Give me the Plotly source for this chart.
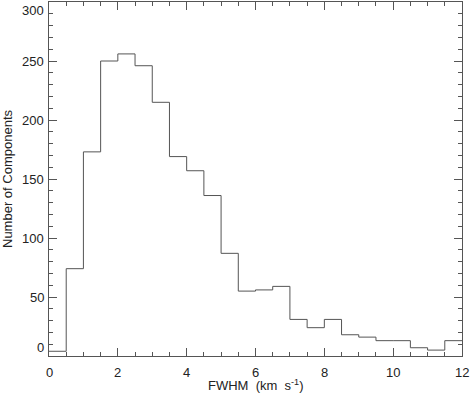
import plotly.graph_objects as go

bin_edges = [0.0, 0.5, 1.0, 1.5, 2.0, 2.5, 3.0, 3.5, 4.0, 4.5, 5.0, 5.5, 6.0,
             6.5, 7.0, 7.5, 8.0, 8.5, 9.0, 9.5, 10.0, 10.5, 11.0, 11.5, 12.0]
counts = [4, 74, 173, 250, 256, 246, 215, 169, 157, 136, 87, 55, 56,
          59, 31, 24, 31, 18, 16, 13, 13, 7, 5, 13]

x_ticks = [0, 2, 4, 6, 8, 10, 12]
y_ticks = [0, 50, 100, 150, 200, 250, 300]

x_title = "FWHM  (km  s<sup>-1</sup>)"
y_title = "Number of Components"

line_col = "#555555"
text_col = "#222222"

fig = go.Figure()
fig.add_trace(go.Scatter(
    x=bin_edges,
    y=counts + [counts[-1]],
    mode="lines",
    line=dict(shape="hv", color=line_col, width=1),
    showlegend=False,
    hoverinfo="skip",
))

font = dict(family="Liberation Sans, Arial, sans-serif", size=13, color=text_col)

axis_common = dict(
    showgrid=False, zeroline=False, showline=True, linecolor=line_col, linewidth=1,
    mirror="ticks", ticks="inside", ticklen=8, tickcolor=line_col, tickwidth=1,
    showticklabels=False, automargin=False,
)

fig.update_xaxes(range=[0, 12], tickmode="array", tickvals=x_ticks,
                 minor=dict(dtick=0.5, ticks="inside", ticklen=4, tickcolor=line_col),
                 **axis_common)
fig.update_yaxes(range=[0, 300], tickmode="array", tickvals=y_ticks,
                 minor=dict(dtick=10, ticks="inside", ticklen=4, tickcolor=line_col),
                 **axis_common)

annotations = []
for v in x_ticks:
    annotations.append(dict(
        x=v, y=0, xref="x", yref="paper", text=str(v), showarrow=False,
        xanchor="center", yanchor="top", yshift=-7, font=font,
    ))
for i, v in enumerate(y_ticks):
    if i == 0:
        ya, ys = "bottom", -1
    elif i == len(y_ticks) - 1:
        ya, ys = "top", 1
    else:
        ya, ys = "middle", 0
    annotations.append(dict(
        x=0, y=v, xref="paper", yref="y", text=str(v), showarrow=False,
        xanchor="right", yanchor=ya, xshift=-3, yshift=ys, font=font,
    ))
annotations.append(dict(
    x=0.5, y=0, xref="paper", yref="paper", text=x_title, showarrow=False,
    xanchor="center", yanchor="top", yshift=-19, font=font,
))
annotations.append(dict(
    x=0, y=0.5, xref="paper", yref="paper", text=y_title, showarrow=False,
    textangle=-90, xanchor="center", yanchor="middle", xshift=-42, font=font,
))

fig.update_layout(
    width=470, height=395,
    margin=dict(l=49, r=8, t=2, b=39),
    paper_bgcolor="white", plot_bgcolor="white",
    font=font,
    annotations=annotations,
)

fig.write_html(
    "out.html",
    config={"displayModeBar": False},
    post_script="document.body.style.margin='0';document.body.style.padding='0';"
                "document.body.style.overflow='hidden';",
)
